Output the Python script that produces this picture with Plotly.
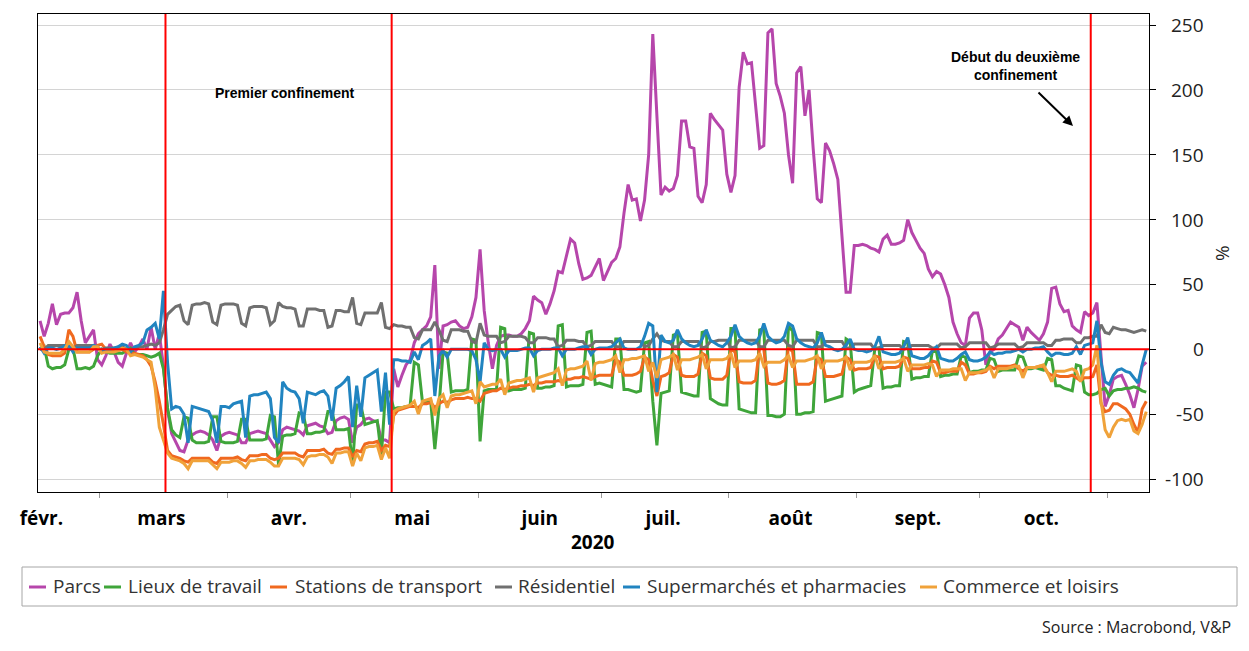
import pandas as pd
import plotly.graph_objects as go

# ---------------- data (daily, from 2020-02-15) ----------------
start_date = "2020-02-15 12:00"

parcs = [
    22, 10, 20, 35, 19, 27, 28,
    28, 32, 44, 22, 5, 10, 15,
    -8, -12, -5, 4, -2, -10, -13,
    -3, 5, -2, 2, 8, 0, 17,
    0, 12, -13, -47, -65, -72, -78,
    -79, -70, -66, -64, -63, -64, -66,
    -70, -78, -67, -65, -64, -65, -66,
    -72, -72, -65, -64, -63, -64, -65,
    -70, -75, -72, -62, -60, -61, -62,
    -63, -66, -59, -58, -57, -59, -60,
    -65, -64, -55, -53, -52, -54, -72,
    -60, -58, -54, -53, -55, -56, -70,
    -70, -72, -15, -29, -20, -12, -8,
    5, 12, 15, 18, 25, 65, -15,
    18, 19, 21, 22, 18, 16, 17,
    25, 40, 77, 30, 5, -15, 3,
    10, 11, 11, 10, 10, 12, 16,
    22, 41, 38, 36, 27, 35, 45,
    60, 59, 72, 85, 82, 66, 54,
    55, 57, 64, 70, 53, 60, 67,
    70, 79, 105, 127, 115, 116, 99,
    115, 150, 243, 180, 119, 125, 122,
    124, 134, 176, 176, 156, 155, 118,
    113, 127, 182, 177, 173, 169, 135,
    121, 134, 202, 229, 220, 221, 188,
    155, 157, 244, 247, 205, 195, 182,
    150, 128, 213, 218, 180, 200, 155,
    116, 113, 159, 153, 143, 131, 90,
    44, 44, 80, 80, 81, 80, 78,
    77, 75, 85, 88, 81, 81, 82,
    84, 100, 90, 84, 78, 74, 62,
    56, 60, 58, 50, 40, 21, 12,
    5, 3, 24, 28, 28, 15, -12,
    -2, 0, 8, 11, 16, 21, 19,
    17, 7, 17, 13, 10, 7, 12,
    21, 47, 48, 35, 29, 30, 18,
    15, 13, 29, 26, 28, 36, -5,
    -44, -35, -23, -21, -20, -27, -35,
    -45, -31, -13, -10,
]

travail = [
    0, 2, -13, -15, -14, -14, -12,
    0, 1, -15, -15, -14, -15, -13,
    -5, 0, -2, -3, -3, -3, -3,
    -1, 1, -4, -4, -4, -5, -6,
    -5, -3, -15, -45, -62, -66, -68,
    -52, -53, -70, -72, -72, -72, -71,
    -52, -52, -71, -72, -72, -72, -71,
    -54, -54, -70, -70, -70, -70, -69,
    -51, -52, -89, -67, -66, -66, -65,
    -49, -50, -65, -65, -64, -64, -63,
    -48, -48, -62, -62, -62, -61, -89,
    -43, -43, -58, -57, -56, -55, -82,
    -33, -33, -46, -45, -45, -44, -43,
    -10, -12, -41, -41, -40, -77, -45,
    -2, -3, -33, -32, -32, -32, -31,
    8, 7, -71, -32, -31, -31, -31,
    17, 16, -32, -31, -31, -31, -30,
    13, 12, -30, -30, -29, -29, -28,
    18, 19, -29, -28, -28, -28, -27,
    13, 14, -27, -26, -27, -28, -29,
    8, 8, -31, -31, -32, -33, -32,
    5, 6, -40, -74, -34, -33, -32,
    11, 12, -33, -34, -35, -36, -36,
    13, 14, -38, -40, -42, -43, -43,
    16, 16, -46, -47, -48, -49, -49,
    15, 16, -51, -51, -52, -52, -50,
    18, 14, -50, -50, -49, -49, -48,
    13, 12, -40, -39, -38, -37, -36,
    8, 6, -33, -31, -30, -29, -28,
    1, 1, -30, -29, -29, -28, -28,
    6, 5, -23, -22, -22, -21, -21,
    -1, -2, -21, -20, -20, -19, -19,
    -5, -6, -18, -17, -17, -16, -16,
    -7, -8, -17, -16, -16, -16, -16,
    -5, -6, -15, -15, -14, -15, -16,
    -7, -8, -28, -28, -30, -31, -32,
    -12, -13, -33, -35, -35, -34, -31,
    -30, -36, -32, -31, -31, -30, -30,
    -29, -30, -32, -33,
]

transport = [
    10, 2, -4, -5, -5, -5, -3,
    15, 10, -2, -2, -2, -2, 0,
    3, 4, 0, -1, -1, -1, 0,
    -2, -3, -3, -4, -5, -8, -13,
    -25, -40, -58, -78, -82, -83, -84,
    -86, -87, -84, -84, -84, -84, -84,
    -87, -88, -84, -84, -84, -84, -83,
    -85, -86, -82, -82, -82, -81, -81,
    -84, -85, -84, -80, -80, -80, -80,
    -82, -83, -78, -78, -78, -78, -77,
    -80, -81, -77, -77, -76, -76, -83,
    -78, -79, -73, -72, -72, -71, -78,
    -74, -75, -51, -47, -46, -45, -44,
    -44, -45, -42, -42, -41, -45, -42,
    -40, -41, -39, -38, -38, -38, -37,
    -38, -38, -40, -34, -33, -32, -32,
    -30, -31, -30, -29, -29, -28, -28,
    -27, -28, -26, -26, -25, -25, -25,
    -24, -25, -23, -23, -22, -22, -21,
    -22, -23, -21, -20, -20, -20, -20,
    -8, -10, -20, -20, -20, -19, -17,
    -6, -8, -24, -36, -21, -20, -18,
    -4, -6, -20, -21, -21, -21, -19,
    -3, -5, -22, -23, -23, -23, -20,
    0, -2, -25, -26, -26, -26, -24,
    2, 0, -26, -27, -27, -26, -24,
    2, -2, -27, -27, -27, -27, -25,
    -6, -8, -21, -21, -21, -20, -19,
    -6, -8, -16, -15, -15, -15, -14,
    -5, -6, -15, -14, -14, -14, -13,
    -6, -7, -15, -15, -15, -14, -14,
    -9, -10, -18, -18, -17, -17, -17,
    -10, -12, -19, -19, -18, -18, -17,
    -13, -15, -13, -13, -13, -13, -12,
    -15, -17, -14, -14, -14, -13, -13,
    -18, -20, -20, -21, -21, -21, -20,
    -22, -24, -22, -22, -21, -12, -42,
    -48, -47, -42, -42, -44, -46, -50,
    -58, -64, -46, -40,
]

residentiel = [
    0, 0, 3, 3, 3, 3, 3,
    0, 0, 3, 3, 3, 3, 3,
    0, 0, 1, 1, 1, 1, 2,
    0, 0, 1, 2, 2, 3, 4,
    3, 5, 15, 27, 30, 33, 34,
    22, 19, 34, 35, 35, 36, 35,
    21, 19, 34, 35, 35, 35, 34,
    20, 18, 32, 33, 33, 33, 32,
    19, 22, 36, 33, 32, 32, 31,
    18, 18, 31, 31, 31, 30, 30,
    17, 18, 30, 30, 29, 29, 40,
    20, 19, 28, 28, 28, 28, 36,
    17, 16, 19, 18, 18, 17, 17,
    9, 8, 15, 15, 15, 21, 15,
    7, 6, 15, 15, 15, 14, 14,
    6, 5, 20, 11, 10, 10, 10,
    5, 6, 10, 10, 10, 10, 9,
    5, 5, 9, 9, 9, 8, 8,
    2, 3, 7, 7, 7, 6, 6,
    2, 3, 6, 6, 6, 6, 6,
    2, 2, 6, 6, 6, 6, 6,
    2, 3, 8, 12, 7, 6, 6,
    2, 2, 6, 6, 6, 6, 6,
    1, 2, 6, 6, 7, 7, 7,
    1, 2, 7, 7, 7, 7, 7,
    2, 2, 7, 7, 7, 7, 7,
    3, 2, 7, 7, 7, 7, 7,
    2, 2, 6, 6, 6, 6, 6,
    1, 1, 4, 4, 4, 4, 4,
    0, 1, 3, 3, 3, 3, 3,
    0, 1, 3, 3, 3, 3, 3,
    1, 1, 4, 4, 4, 4, 4,
    1, 2, 5, 5, 5, 5, 5,
    1, 2, 4, 4, 4, 4, 4,
    1, 2, 5, 5, 5, 5, 5,
    3, 3, 7, 7, 8, 8, 8,
    5, 5, 9, 9, 10, 10, 19,
    13, 12, 17, 16, 15, 15, 14,
    13, 14, 15, 14,
]

supermarches = [
    2, -3, 1, 1, 0, 1, 3,
    3, -2, 1, 1, 1, 1, 3,
    2, -2, 0, 0, 1, 2, 4,
    3, -2, 2, 3, 5, 15, 17,
    20, 8, 45, -10, -46, -44, -45,
    -50, -72, -44, -45, -46, -47, -48,
    -55, -72, -44, -44, -45, -42, -41,
    -40, -68, -36, -35, -35, -34, -33,
    -38, -68, -72, -25, -30, -32, -33,
    -38, -57, -33, -34, -35, -33, -32,
    -36, -55, -30, -28, -25, -21, -60,
    -28, -52, -22, -20, -18, -16, -48,
    -18, -58, -8, -8, -9, -9, -10,
    -2, -8, 3, 5, 8, -36, -5,
    -1, -6, 0, 0, 0, 0, 0,
    -1, -8, -25, 5, 0, -1, 0,
    0, -6, -1, -1, -1, 0, 1,
    1, -5, -1, 0, 0, 0, 1,
    1, -5, 0, 0, 0, 1, 2,
    2, -4, 0, 1, 1, 1, 2,
    5, 8, 1, 0, 0, 0, 2,
    10, 20, 18, -33, 11, 6, 5,
    7, 15, 8, 5, 3, 2, 3,
    8, 15, 7, 5, 3, 2, 5,
    10, 19, 10, 7, 5, 4, 5,
    10, 20, 10, 7, 5, 6, 10,
    20, 18, 8, 5, 3, 2, 1,
    5, 13, 3, 2, 0, -1, 0,
    3, 8, 0, -1, -1, -2, -1,
    2, 10, -2, -3, -4, -4, -3,
    2, 9, -5, -6, -7, -7, -5,
    -1, 2, -7, -8, -9, -9, -7,
    -4, -2, -8, -9, -9, -8, -6,
    -2, -4, -3, -3, -2, -2, -1,
    0, -2, 0, 0, 1, 1, 2,
    -2, -5, -3, -3, -4, -4, -3,
    2, -4, 3, 4, 5, 22, -10,
    -25, -27, -20, -16, -15, -17, -18,
    -22, -26, -12, 0,
]

commerce = [
    5, -2, -3, -3, -3, -3, 0,
    6, 2, -2, -2, -2, -2, 2,
    2, -3, -2, -2, -2, -1, 1,
    0, -5, -4, -5, -6, -8, -10,
    -30, -60, -70, -80, -84, -85, -86,
    -88, -92, -86, -86, -86, -86, -86,
    -89, -92, -87, -87, -87, -86, -86,
    -88, -91, -86, -86, -85, -85, -85,
    -87, -90, -90, -84, -84, -84, -84,
    -85, -89, -83, -82, -82, -81, -81,
    -83, -88, -80, -80, -79, -79, -90,
    -80, -86, -76, -75, -75, -74, -85,
    -76, -84, -48, -46, -45, -44, -43,
    -40, -50, -40, -39, -38, -51, -38,
    -35, -45, -36, -35, -35, -34, -33,
    -32, -42, -25, -29, -28, -27, -27,
    -23, -35, -26, -25, -24, -24, -23,
    -22, -33, -22, -21, -20, -19, -18,
    -15, -28, -16, -15, -15, -14, -13,
    -9, -24, -11, -10, -10, -9, -8,
    -5, -18, -8, -8, -7, -7, -6,
    -5, -17, -10, -22, -8, -7, -6,
    -4, -16, -8, -8, -8, -7, -6,
    -4, -15, -8, -8, -8, -8, -7,
    -3, -14, -9, -9, -9, -9, -8,
    -3, -13, -10, -10, -10, -10, -8,
    -5, -14, -9, -9, -9, -8, -7,
    -5, -15, -9, -9, -9, -9, -8,
    -6, -16, -10, -10, -10, -10, -9,
    -5, -15, -10, -10, -10, -10, -9,
    -7, -17, -12, -12, -12, -12, -11,
    -12, -21, -16, -16, -16, -15, -15,
    -15, -24, -18, -18, -18, -17, -16,
    -14, -22, -15, -15, -15, -14, -13,
    -13, -22, -14, -14, -14, -13, -12,
    -18, -25, -17, -17, -17, -16, -15,
    -17, -25, -16, -15, -12, 3, -40,
    -62, -68, -60, -55, -54, -55, -54,
    -63, -65, -58, -48,
]

series_names = ["Parcs", "Lieux de travail", "Stations de transport",
                "Résidentiel", "Supermarchés et pharmacies", "Commerce et loisirs"]
series_values = [parcs, travail, transport, residentiel, supermarches, commerce]
series_colors = ["#B646AB", "#3FA53A", "#F0691F", "#707070", "#2184C0", "#F0A23A"]

month_tick_dates = ["2020-02-15 20:00", "2020-03-16", "2020-04-16", "2020-05-16",
                    "2020-06-16", "2020-07-16", "2020-08-16", "2020-09-16", "2020-10-16"]
month_labels = ["févr.", "mars", "avr.", "mai", "juin", "juil.", "août", "sept.", "oct."]
month_starts = ["2020-03-01", "2020-04-01", "2020-05-01", "2020-06-01", "2020-07-01",
                "2020-08-01", "2020-09-01", "2020-10-01", "2020-11-01"]
y_ticks = [250, 200, 150, 100, 50, 0, -50, -100]
event_dates = ["2020-03-17", "2020-05-11", "2020-10-28"]

# ---------------- figure ----------------
dates = pd.date_range(start_date, periods=len(parcs), freq="D")

fig = go.Figure()
for name, vals, col in zip(series_names, series_values, series_colors):
    fig.add_trace(go.Scatter(x=dates, y=vals, mode="lines", name=name,
                             line=dict(color=col, width=3), showlegend=False))

# the page body adds an 8 px offset; work in screenshot pixels
OFF = 8
W, H = 1249 - OFF, 651 - OFF
L, R, T, B = 38, 1149, 14, 492          # plot area in screenshot pixels
def px(x):
    return (x - L) / (R - L)
def py(y):
    return (B - y) / (B - T)

fig.update_layout(
    width=W, height=H,
    margin=dict(l=L - OFF, r=W - (R - OFF), t=T - OFF, b=H - (B - OFF)),
    plot_bgcolor="white", paper_bgcolor="white",
    font=dict(family="Open Sans, Noto Sans, sans-serif", color="#222"),
    showlegend=False,
)

fig.update_xaxes(
    type="date",
    range=["2020-02-15 00:00", "2020-11-11 04:00"],
    tickmode="array", tickvals=month_tick_dates, ticktext=month_labels,
    tickfont=dict(size=19, color="black", weight="bold"),
    ticks="outside", ticklen=9, tickcolor="rgba(0,0,0,0)",
    minor=dict(tickmode="array", tickvals=month_starts, ticks="outside",
               ticklen=5, tickcolor="#999999", tickwidth=1, showgrid=False),
    showgrid=False, zeroline=False,
    showline=True, linecolor="black", linewidth=1, mirror=True,
)

fig.update_yaxes(
    side="right", range=[-110, 258.5],
    tickmode="array", tickvals=y_ticks, showticklabels=False,
    ticks="outside", ticklen=6, tickcolor="black",
    showgrid=True, gridcolor="#d4d4d4", gridwidth=1, zeroline=False,
    showline=True, linecolor="black", linewidth=1, mirror=True,
)

shapes = []
shapes.append(dict(type="line", xref="paper", yref="y", x0=0, x1=1, y0=0, y1=0,
                   line=dict(color="#FF0000", width=2), layer="above"))
for d in event_dates:
    shapes.append(dict(type="line", xref="x", yref="paper", x0=d, x1=d, y0=0, y1=1,
                       line=dict(color="#FF0000", width=2), layer="above"))

annotations = []
for v in y_ticks:
    annotations.append(dict(xref="paper", yref="y", x=px(1206), y=v, text=str(v),
                            showarrow=False, xanchor="right", yanchor="middle",
                            font=dict(size=19, color="#222")))
annotations.append(dict(xref="paper", yref="paper", x=px(1222), y=0.5, text="%",
                        textangle=-90, showarrow=False, xanchor="center", yanchor="middle",
                        font=dict(size=19, color="#222")))
annotations.append(dict(xref="paper", yref="paper", x=px(593), y=py(542), text="<b>2020</b>",
                        showarrow=False, xanchor="center", yanchor="middle",
                        font=dict(size=19, color="black")))
annotations.append(dict(xref="paper", yref="paper", x=px(285), y=py(93),
                        text="<b>Premier confinement</b>", showarrow=False,
                        xanchor="center", yanchor="middle",
                        font=dict(family="Liberation Sans, Arial", size=14, color="black")))
annotations.append(dict(xref="paper", yref="paper", x=px(1015), y=py(66),
                        text="<b>Début du deuxième<br>confinement</b>", showarrow=False,
                        xanchor="center", yanchor="middle",
                        font=dict(family="Liberation Sans, Arial", size=14, color="black")))
annotations.append(dict(xref="paper", yref="paper", x=px(1073), y=py(126), text="",
                        showarrow=True, ax=-36, ay=-35, arrowhead=2, arrowsize=1,
                        arrowwidth=2, arrowcolor="black"))
annotations.append(dict(xref="paper", yref="paper", x=px(1233), y=py(627),
                        text="Source : Macrobond, V&P", showarrow=False,
                        xanchor="right", yanchor="middle", font=dict(size=16, color="#222")))

# legend drawn as box, short line keys and labels
shapes.append(dict(type="rect", xref="paper", yref="paper", x0=px(22), x1=px(1237),
                   y0=py(567), y1=py(606), line=dict(color="#a6a6a6", width=1),
                   fillcolor="white", layer="above"))
legend_sym_x = [29, 104, 270, 495, 623, 920]
legend_txt_x = [51, 126, 293, 516, 645, 941]
for name, col, sx, tx in zip(series_names, series_colors, legend_sym_x, legend_txt_x):
    shapes.append(dict(type="line", xref="paper", yref="paper", x0=px(sx), x1=px(sx + 17),
                       y0=py(587), y1=py(587), line=dict(color=col, width=3), layer="above"))
    annotations.append(dict(xref="paper", yref="paper", x=px(tx), y=py(586), text=name,
                            showarrow=False, xanchor="left", yanchor="middle",
                            font=dict(size=19, color="#333")))

fig.update_layout(shapes=shapes, annotations=annotations)
fig.write_html("out.html")
